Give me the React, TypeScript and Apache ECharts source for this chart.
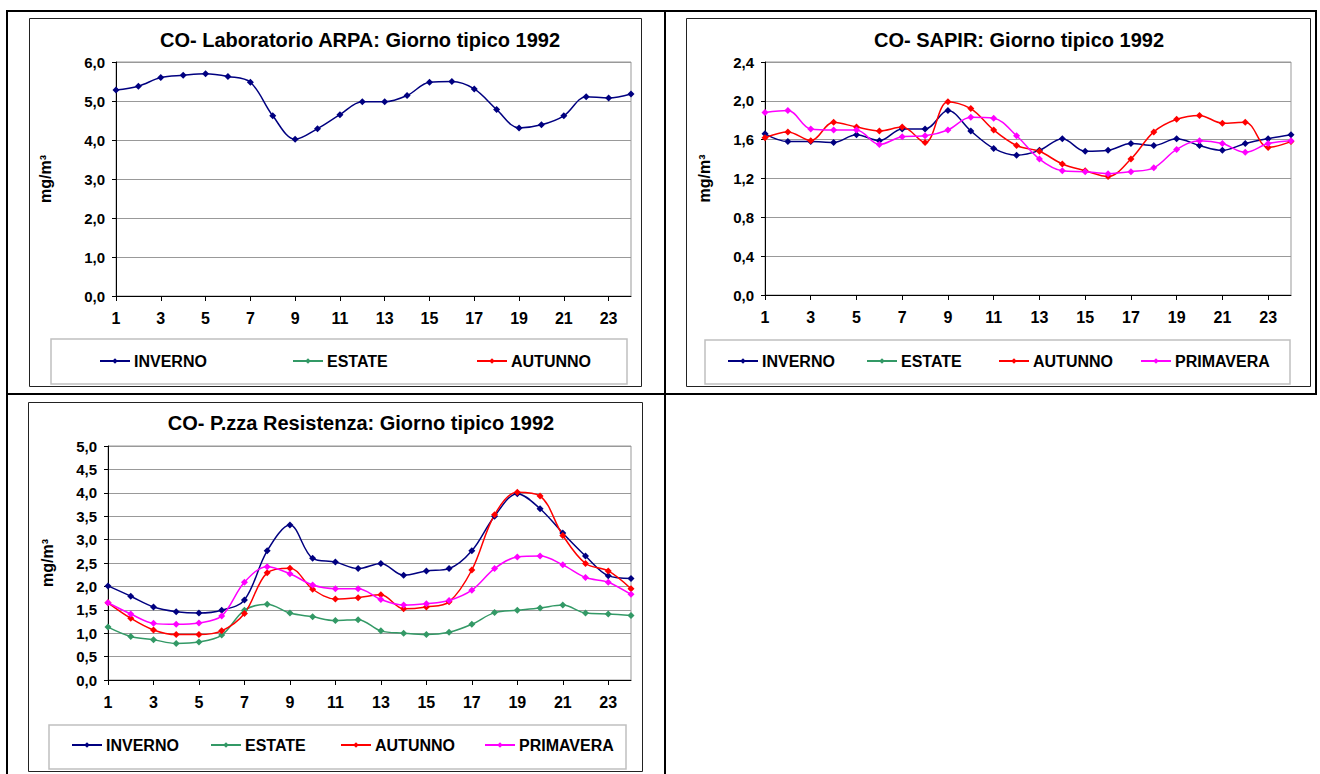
import React, { useEffect, useRef } from "react";
import * as echarts from "echarts";

const hours = Array.from({ length: 24 }, (_, i) => String(i + 1));

// Chart 1: CO - Laboratorio ARPA
const arpaInverno = [5.28, 5.38, 5.6, 5.66, 5.7, 5.63, 5.48, 4.62, 4.02, 4.29, 4.65, 4.98, 4.98, 5.14, 5.48, 5.5, 5.31, 4.78, 4.31, 4.39, 4.62, 5.11, 5.08, 5.18];

// Chart 2: CO - SAPIR
const sapirInverno = [1.66, 1.58, 1.58, 1.57, 1.65, 1.59, 1.71, 1.71, 1.9, 1.69, 1.51, 1.44, 1.49, 1.61, 1.48, 1.49, 1.56, 1.54, 1.61, 1.54, 1.49, 1.56, 1.61, 1.65];
const sapirAutunno = [1.62, 1.68, 1.59, 1.78, 1.73, 1.69, 1.73, 1.57, 1.99, 1.92, 1.7, 1.54, 1.48, 1.35, 1.28, 1.22, 1.4, 1.68, 1.81, 1.85, 1.77, 1.78, 1.52, 1.58];
const sapirPrimavera = [1.88, 1.9, 1.71, 1.7, 1.7, 1.55, 1.63, 1.64, 1.7, 1.83, 1.82, 1.64, 1.4, 1.28, 1.27, 1.25, 1.27, 1.31, 1.5, 1.59, 1.56, 1.47, 1.56, 1.59];

// Chart 3: CO - P.zza Resistenza
const resInverno = [2.01, 1.79, 1.56, 1.46, 1.43, 1.49, 1.71, 2.76, 3.31, 2.6, 2.52, 2.38, 2.49, 2.24, 2.33, 2.38, 2.76, 3.5, 3.98, 3.66, 3.14, 2.65, 2.23, 2.17];
const resEstate = [1.13, 0.93, 0.86, 0.78, 0.81, 0.96, 1.49, 1.62, 1.43, 1.35, 1.27, 1.29, 1.05, 1.0, 0.97, 1.02, 1.19, 1.44, 1.49, 1.54, 1.6, 1.43, 1.41, 1.38];
const resAutunno = [1.65, 1.32, 1.07, 0.97, 0.97, 1.05, 1.42, 2.29, 2.39, 1.94, 1.73, 1.76, 1.82, 1.52, 1.56, 1.67, 2.35, 3.53, 4.01, 3.93, 3.09, 2.49, 2.33, 1.95];
const resPrimavera = [1.65, 1.41, 1.21, 1.19, 1.22, 1.37, 2.09, 2.42, 2.27, 2.03, 1.95, 1.95, 1.72, 1.6, 1.63, 1.7, 1.92, 2.38, 2.63, 2.65, 2.46, 2.19, 2.09, 1.83];

const titles = [
  "CO- Laboratorio ARPA: Giorno tipico 1992",
  "CO- SAPIR: Giorno tipico 1992",
  "CO- P.zza Resistenza: Giorno tipico 1992",
];
const seasonColors: Record<string, string> = {
  INVERNO: "#000080",
  ESTATE: "#339966",
  AUTUNNO: "#FF0000",
  PRIMAVERA: "#FF00FF",
};
const yMax = [6, 2.4, 5];
const yStep = [1, 0.4, 0.5];

const FONT = "'Liberation Sans', Arial, sans-serif";

export default function App() {
  const ref = useRef<HTMLDivElement>(null);
  useEffect(() => {
    if (!ref.current) return;
    const chart = echarts.init(ref.current, null, { renderer: "svg" });

    const grids = [
      { left: 116, top: 62, width: 515, height: 234 },
      { left: 765, top: 62, width: 526, height: 233 },
      { left: 108, top: 446, width: 523, height: 234 },
    ];

    const chartSeries: { name: string; data: number[] }[][] = [
      [
        { name: "INVERNO", data: arpaInverno },
        { name: "ESTATE", data: [] },
        { name: "AUTUNNO", data: [] },
      ],
      [
        { name: "INVERNO", data: sapirInverno },
        { name: "ESTATE", data: [] },
        { name: "AUTUNNO", data: sapirAutunno },
        { name: "PRIMAVERA", data: sapirPrimavera },
      ],
      [
        { name: "INVERNO", data: resInverno },
        { name: "ESTATE", data: resEstate },
        { name: "AUTUNNO", data: resAutunno },
        { name: "PRIMAVERA", data: resPrimavera },
      ],
    ];

    const legendLeft = [
      [99, 292, 476],
      [727, 866, 998, 1140],
      [71, 210, 340, 484],
    ];
    const legendTop = [353, 353, 737];

    const series: any[] = [];
    chartSeries.forEach((list, gi) => {
      list.forEach((s) => {
        series.push({
          type: "line",
          name: s.name,
          xAxisIndex: gi,
          yAxisIndex: gi,
          data: s.data,
          smooth: 0.35,
          symbol: "diamond",
          symbolSize: 7,
          color: seasonColors[s.name],
          lineStyle: { width: 1.5, color: seasonColors[s.name] },
          itemStyle: { color: seasonColors[s.name] },
        });
      });
    });

    const legends: any[] = [];
    chartSeries.forEach((list, gi) => {
      list.forEach((s, i) => {
        legends.push({
          data: [s.name],
          left: legendLeft[gi][i],
          top: legendTop[gi],
          selectedMode: false,
          itemWidth: 30,
          itemHeight: 7,
          itemGap: 4,
          padding: 0,
          textStyle: { fontFamily: FONT, fontSize: 16, fontWeight: "bold", color: "#000", padding: [0, 0, 0, -1] },
        });
      });
    });

    const fmt = (v: number) => v.toFixed(1).replace(".", ",");

    const option: any = {
      animation: false,
      backgroundColor: "#fff",
      title: [
        { text: titles[0], left: 355, top: 25, textAlign: "center" },
        { text: titles[1], left: 1014, top: 25, textAlign: "center" },
        { text: titles[2], left: 356, top: 408, textAlign: "center" },
      ].map((t) => ({
        ...t,
        textStyle: { fontFamily: FONT, fontSize: 20, fontWeight: "bold", color: "#000" },
      })),
      grid: grids.map((g) => ({ ...g, show: true, borderColor: "#999", borderWidth: 1, containLabel: false })),
      xAxis: grids.map((_, gi) => ({
        type: "category",
        gridIndex: gi,
        data: hours,
        boundaryGap: false,
        axisLine: { lineStyle: { color: "#000", width: 1 } },
        axisTick: { show: true, interval: 1, length: 5, lineStyle: { color: "#000" } },
        axisLabel: {
          interval: 1,
          margin: 14,
          fontFamily: FONT,
          fontSize: 16,
          fontWeight: "bold",
          color: "#000",
        },
        splitLine: { show: false },
      })),
      yAxis: grids.map((_, gi) => ({
        type: "value",
        gridIndex: gi,
        min: 0,
        max: yMax[gi],
        interval: yStep[gi],
        name: "mg/m³",
        nameLocation: "middle",
        nameRotate: 90,
        nameGap: gi === 0 ? 63 : 53,
        nameTextStyle: { fontFamily: FONT, fontSize: 16, fontWeight: "bold", color: "#000" },
        axisLine: { show: true, lineStyle: { color: "#000", width: 1 } },
        axisTick: { show: true, length: 4, lineStyle: { color: "#000" } },
        axisLabel: {
          margin: 11,
          fontFamily: FONT,
          fontSize: 15,
          fontWeight: "bold",
          color: "#000",
          formatter: fmt,
        },
        splitLine: { show: true, lineStyle: { color: "#999", width: 1 } },
      })),
      legend: legends,
      series,
      graphic: [
        // table lines
        { type: "line", shape: { x1: 6, y1: 11, x2: 1317, y2: 11 }, style: { stroke: "#000", lineWidth: 2 } },
        { type: "line", shape: { x1: 6, y1: 394, x2: 1317, y2: 394 }, style: { stroke: "#000", lineWidth: 2 } },
        { type: "line", shape: { x1: 7, y1: 10, x2: 7, y2: 774 }, style: { stroke: "#000", lineWidth: 2 } },
        { type: "line", shape: { x1: 665, y1: 10, x2: 665, y2: 774 }, style: { stroke: "#000", lineWidth: 2 } },
        { type: "line", shape: { x1: 1316, y1: 10, x2: 1316, y2: 395 }, style: { stroke: "#000", lineWidth: 2 } },
        // chart frames
        { type: "rect", shape: { x: 29.5, y: 18.5, width: 612, height: 368 }, style: { fill: "none", stroke: "#222", lineWidth: 1 } },
        { type: "rect", shape: { x: 686.5, y: 18.5, width: 624, height: 368 }, style: { fill: "none", stroke: "#222", lineWidth: 1 } },
        { type: "rect", shape: { x: 28.5, y: 402.5, width: 614, height: 369 }, style: { fill: "none", stroke: "#222", lineWidth: 1 } },
        // legend boxes
        { type: "rect", shape: { x: 51, y: 339, width: 576, height: 45 }, style: { fill: "none", stroke: "#c0c0c0", lineWidth: 1.5 } },
        { type: "rect", shape: { x: 705, y: 340, width: 585, height: 44 }, style: { fill: "none", stroke: "#c0c0c0", lineWidth: 1.5 } },
        { type: "rect", shape: { x: 49, y: 725, width: 577, height: 44 }, style: { fill: "none", stroke: "#c0c0c0", lineWidth: 1.5 } },
      ],
    };

    chart.setOption(option);
    return () => chart.dispose();
  }, []);

  return (
    <div
      ref={ref}
      style={{ position: "fixed", left: 0, top: 0, width: 1320, height: 774, background: "#fff" }}
    />
  );
}
